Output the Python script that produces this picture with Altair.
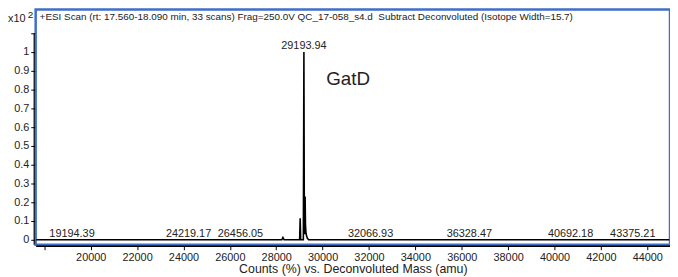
import altair as alt
import pandas as pd

# Spectrum (deconvoluted mass vs. counts, x10^2)
masses = [17650, 28240, 28290, 28340, 29010, 29033, 29056, 29170, 29194, 29214,
          29232, 29246, 29262, 29285, 29310, 29345, 29400, 44950]
intens = [0, 0, 0.012, 0, 0, 0.115, 0, 0, 1.0, 0.04,
          0.03, 0.23, 0.08, 0.035, 0.02, 0.008, 0, 0]

# Peak labels
label_mass = [19194.39, 24219.17, 26456.05, 29193.94, 32066.93, 36328.47, 40692.18, 43375.21]
label_int = [0, 0, 0, 1.0, 0, 0, 0, 0]
label_text = ["19194.39", "24219.17", "26456.05", "29193.94", "32066.93", "36328.47", "40692.18", "43375.21"]

x_ticks = list(range(18000, 44001, 2000))
y_ticks = [0, 0.1, 0.2, 0.3, 0.4, 0.5, 0.6, 0.7, 0.8, 0.9, 1.0, 1.1]

title_text = "+ESI Scan (rt: 17.560-18.090 min, 33 scans) Frag=250.0V QC_17-058_s4.d \u00a0Subtract Deconvoluted (Isotope Width=15.7)"

FONT = "Liberation Sans"
W, H = 642, 238
FRAME = "#3f6fc8"

spec = pd.DataFrame({"mass": masses, "counts": intens})
labels = pd.DataFrame({"mass": label_mass, "counts": label_int, "text": label_text})

xscale = alt.Scale(domain=[17627, 44981], nice=False, zero=False)
yscale = alt.Scale(domain=[-0.0263, 1.226], nice=False, zero=False)

xaxis = alt.Axis(values=x_ticks, labelExpr="datum.value < 19000 ? '' : datum.label",
                 format="d", grid=False, domainColor="black", domainWidth=1.5,
                 tickColor="black", tickSize=4, offset=1, labelFont=FONT,
                 labelFontSize=11, labelColor="#222", labelPadding=2, labelOverlap=False,
                 title="Counts (%) vs. Deconvoluted Mass (amu)", titleFont=FONT,
                 titleFontSize=12.5, titleFontWeight="normal", titleColor="#222",
                 titlePadding=0)
yaxis = alt.Axis(values=y_ticks, format="~g",
                 labelExpr="datum.value > 1.05 ? '' : datum.label",
                 grid=False, domain=False, tickColor="black", tickSize=4, offset=1,
                 labelFont=FONT, labelFontSize=11, labelColor="#222", labelPadding=2,
                 labelOverlap=False, title=None)

line = alt.Chart(spec).mark_line(color="black", strokeWidth=1.6).encode(
    x=alt.X("mass:Q", scale=xscale, axis=xaxis),
    y=alt.Y("counts:Q", scale=yscale, axis=yaxis),
)

ylinedf = pd.DataFrame({"a": [1.1]})
yline = alt.Chart(ylinedf).mark_rule(color="black", strokeWidth=1.2).encode(
    x=alt.value(-1.5), y=alt.Y("a:Q", scale=yscale, axis=yaxis), y2=alt.value(H)
)

peak_labels = alt.Chart(labels).mark_text(font=FONT, fontSize=11, color="#222",
                                          baseline="middle", dy=-6).encode(
    x=alt.X("mass:Q", scale=xscale, axis=xaxis),
    y=alt.Y("counts:Q", scale=yscale, axis=yaxis),
    text="text:N",
)

tdf = pd.DataFrame({"t": [title_text]})
title = alt.Chart(tdf).mark_text(font=FONT, fontSize=10, color="#222", align="left",
                                 baseline="middle").encode(
    x=alt.value(4), y=alt.value(8), text="t:N")

gdf = pd.DataFrame({"t": ["GatD"]})
gatd = alt.Chart(gdf).mark_text(font=FONT, fontSize=19, color="#222", align="left",
                                baseline="middle").encode(
    x=alt.value(294), y=alt.value(70), text="t:N")

xdf = pd.DataFrame({"t": ["x10"]})
x10 = alt.Chart(xdf).mark_text(font=FONT, fontSize=11, color="#222", align="left",
                               baseline="middle").encode(
    x=alt.value(-28), y=alt.value(10), text="t:N")
sdf = pd.DataFrame({"t": ["2"]})
sup = alt.Chart(sdf).mark_text(font=FONT, fontSize=10, color="#222", align="left",
                               baseline="middle").encode(
    x=alt.value(-8), y=alt.value(6), text="t:N")

chart = alt.layer(line, yline, peak_labels, title, gatd, x10, sup).properties(
    width=W, height=H,
    autosize=alt.AutoSizeParams(type="none"),
    padding={"left": 28, "top": 0, "right": 0, "bottom": 30},
    view=alt.ViewBackground(stroke=FRAME, strokeWidth=2.5),
).configure(background="white",
            view=alt.ViewConfig(stroke=FRAME, strokeWidth=2.5))

chart.save("out.html", embed_options={"renderer": "svg", "actions": False})
